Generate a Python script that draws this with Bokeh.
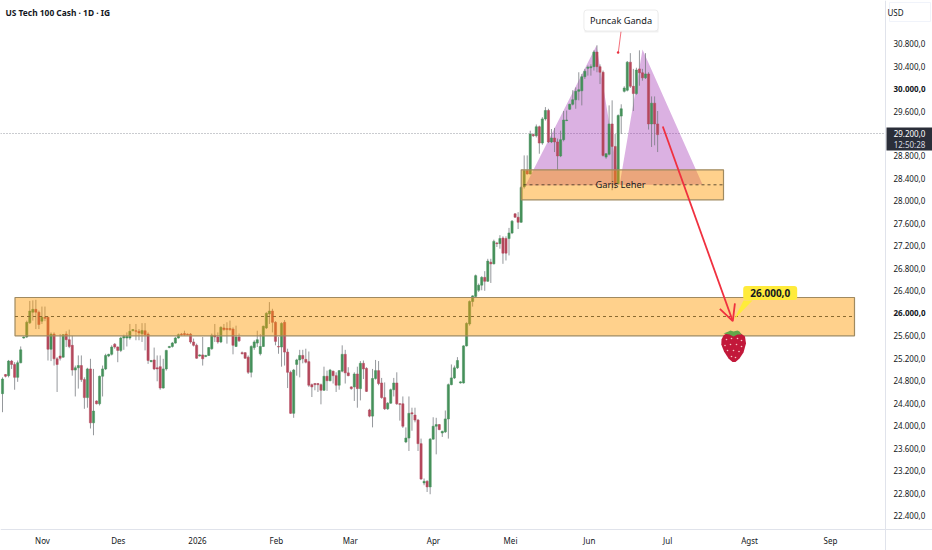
from bokeh.plotting import figure
from bokeh.models import Label, Range1d, FixedTicker, Arrow, OpenHead, LinearAxis
from bokeh.embed import file_html
from bokeh.resources import INLINE

opens = [24570,24910,24890,25150,25090,24860,25120,25560,25580,25830,
26020,26070,26020,25860,25930,25930,25360,25630,25190,25240,
25220,25630,25530,25430,24990,25030,25070,24820,24500,25010,
24050,24440,24390,24880,25010,25240,25270,25450,25400,25340,
25560,25560,25560,25690,25690,25680,25635,25690,25630,25140,
25170,25030,25050,24670,25010,25390,25410,25470,25560,25630,
25640,25630,25630,25490,25430,25240,25260,25230,25250,25370,
25610,25580,25490,25740,25730,25730,25720,25410,25580,25300,
25300,25220,24950,25390,25470,25280,25410,25740,25990,26040,
25840,25410,25400,25840,25310,24950,24220,25090,25170,25250,
25180,25140,24730,24750,24750,24730,24630,24880,24800,24970,
24890,24720,24970,25270,24940,24690,24690,24920,24660,25110,
25020,24280,24170,24840,24980,24760,24500,24300,24400,24640,
24760,24390,24390,23710,23780,24230,24190,24100,23680,22980,
23010,22910,23760,23990,24020,23870,23890,24120,24730,24850,
25030,24760,24760,25420,25810,26210,26300,26410,26500,26640,
26570,26910,26880,27250,27240,27340,27330,27330,27430,27770,
27710,27620,28250,28540,28480,29180,29160,29320,29030,29460,
29610,29050,29120,29050,28800,29090,29430,29630,29720,29800,
29950,29960,30210,30360,30370,30390,30650,30390,30290,28780,
28830,29370,28970,28310,29510,29950,29970,30470,30040,29910,
30350,30280,30190,30260,29370,29740,29370]
highs = [24860,24920,25170,25170,25130,25160,25410,25590,25870,26220,
26230,26240,26050,26120,26120,25940,25660,25660,25220,25630,
25630,25680,25710,25600,25070,25250,25250,24860,25030,25190,
25010,24450,24890,25070,25280,25280,25430,25470,25410,25580,
25620,25660,25810,25720,25810,25720,25825,25825,25660,25170,
25390,25250,25250,25190,25350,25420,25490,25580,25640,25650,
25690,25640,25650,25550,25460,25270,25580,25260,25400,25640,
25810,25660,25770,25810,25840,25870,25750,25780,25640,25320,
25310,25250,25430,25520,25690,25630,25780,26020,26200,26080,
25860,25580,25840,25880,25370,24980,25010,25190,25350,25350,
25370,25320,24750,24760,24760,24750,25050,24980,25010,24980,
24950,24990,25430,25350,25040,24700,24950,25050,25150,25160,
25040,24300,25010,25170,25150,24850,24770,24420,24660,24850,
24950,24400,24520,23970,24520,24320,24320,24120,23770,23060,
23030,23780,24150,24140,24030,23910,24270,24750,25090,25070,
25220,24790,25430,25840,26230,26320,26690,26530,26660,26750,
26970,26970,27310,27270,27390,27370,27370,27520,27660,27780,
27800,28260,28810,28810,29250,29200,29360,29340,29490,29670,
29640,29280,29300,29110,29250,29600,29610,29730,29970,30020,
30290,30260,30350,30410,30430,30680,30770,30430,30320,28850,
29700,29790,29190,29540,29720,30040,30490,30630,30350,30370,
30680,30350,30630,30290,29860,29860,29600]
lows = [24240,24860,24860,25010,24640,24780,25110,25550,25560,25810,
25870,25720,25720,25810,25860,25160,25150,25070,24600,25160,
25210,25400,25380,24890,24520,24660,24780,24300,24320,23950,
23830,24380,24360,24520,24990,25220,25250,25370,25130,25310,
25350,25410,25530,25680,25520,25520,25490,25340,25100,25130,
24990,24790,24640,24660,24980,25380,25390,25460,25550,25600,
25600,25610,25460,25410,25190,25230,25070,25220,25240,25350,
25490,25460,25470,25690,25460,25690,25270,25400,25490,25270,
25190,24920,24860,25350,25400,25250,25400,25720,25810,25660,
25430,25280,25050,25070,24670,24210,24140,24890,24860,25110,
25110,24690,24510,24630,24600,24380,24620,24620,24790,24750,
24600,24640,24950,24750,24880,24640,24440,24320,24450,24830,
24600,24150,23970,24820,24720,24480,24280,24280,24390,24520,
24370,24090,23960,23690,23550,23910,24060,23550,23040,22940,
22820,22780,23750,23490,23920,23800,23870,23770,24720,24830,
25010,24750,24750,25410,25780,26120,26290,26380,26410,26400,
26560,26540,26870,27180,27150,26880,26940,27030,27410,27700,
27500,27610,28220,28470,28470,29140,29130,28840,29000,29430,
29030,29030,28870,28550,28780,29060,29420,29620,29700,29640,
29790,29700,30170,30230,30230,30320,30290,30080,28790,28750,
28810,28190,28220,28290,29190,29930,29950,30010,29600,29890,
30050,30140,30170,29270,28960,28990,28870]
closes = [24830,24880,25150,25090,24860,25120,25350,25580,25840,26040,
26070,26020,25800,25930,25910,25360,25630,25190,25090,25200,
25620,25530,25410,24990,25030,25070,24820,24500,25010,24050,
24260,24390,24880,25010,25250,25270,25400,25400,25340,25560,
25590,25590,25680,25710,25680,25650,25695,25620,25160,25160,
25010,25010,24670,25010,25340,25410,25470,25560,25620,25620,
25620,25620,25490,25430,25200,25260,25190,25250,25390,25610,
25580,25490,25750,25710,25710,25710,25430,25580,25510,25280,
25200,24950,25410,25490,25530,25410,25770,26000,26040,25840,
25500,25400,25820,25310,24950,24220,24990,25170,25250,25190,
25130,24720,24690,24730,24730,24630,24880,24800,24990,24890,
24720,24980,25270,24940,24890,24660,24920,24660,25110,25010,
24610,24170,24840,24980,24750,24500,24300,24400,24640,24760,
24390,24380,23990,23780,24220,24210,24100,23680,23050,23010,
22910,23760,23990,24020,23930,23900,24120,24730,24850,25030,
25160,24780,25420,25820,26210,26310,26670,26500,26640,26570,
26930,26880,27280,27240,27330,27070,27070,27430,27640,27710,
27620,28240,28540,28480,29190,29160,29320,29030,29460,29610,
29050,29120,29050,28800,29090,29440,29440,29720,29800,29950,
29980,30210,30310,30380,30390,30650,30390,30290,28810,28840,
29370,28970,28310,29520,29640,30010,30470,30040,29910,30330,
30280,30190,30260,29370,29740,29370,29180]

price_ticks = [30800,30400,30000,29600,29200,28800,28400,28000,27600,27200,26800,
               26400,26000,25600,25200,24800,24400,24000,23600,23200,22800,22400]
bold_prices = [30000, 26000]
month_ticks = [13.2,38.2,64.3,90.3,114.7,142.1,167.5,193.5,219.3,246.3,273.0]
month_labels = ["Nov","Des","2026","Feb","Mar","Apr","Mei","Jun","Jul","Agst","Sep"]

FONT = "Noto Sans"
INK = "#131722"
GREEN, RED, WICK = "#45905a", "#b4485c", "#74777d"

# helpers for annotation placement, page pixels to chart coordinates
BAR_PX, BAR0, PX_PRICE, Y_REF, P_REF = 3.033, 2.0, 17.797, 133.0, 29200.0
def X(px): return (px - BAR0) / BAR_PX
def Y(py): return P_REF - (py - Y_REF) * PX_PRICE
def fmt(v): return f"{v:,.1f}".replace(",", "#").replace(".", ",").replace("#", ".")

p = figure(width=932, height=550, output_backend="svg", toolbar_location=None,
           x_range=Range1d(X(0), X(932)), y_range=Range1d(Y(550), Y(0)),
           x_axis_type=None, y_axis_type=None, min_border=0, outline_line_color=None,
           background_fill_color="white", border_fill_color="white")
p.margin = (0, 0, 0, 0)
p.xgrid.visible = False
p.ygrid.visible = False

xax = LinearAxis(ticker=FixedTicker(ticks=month_ticks), fixed_location=Y(529))
xax.major_label_overrides = {t: l for t, l in zip(month_ticks, month_labels)}
yax = LinearAxis(ticker=FixedTicker(ticks=price_ticks), fixed_location=X(885))
yax.major_label_overrides = {t: ("" if t in bold_prices + [29200] else fmt(t)) for t in price_ticks}
for a in (xax, yax):
    a.axis_line_color = "#e0e3eb"
    a.major_tick_line_color = None
    a.minor_tick_line_color = None
    a.major_tick_out = 0
    a.major_tick_in = 0
    a.major_label_text_font = FONT
    a.major_label_text_font_size = "8px"
    a.major_label_text_color = INK
xax.major_label_standoff = 5
yax.major_label_standoff = 8
p.add_layout(xax, "below")
p.add_layout(yax, "right")

# current price line
p.line([X(0), X(885)], [29200, 29200], line_color="#9598a1", line_width=1, line_dash="1 2")

# double-top pattern under the candles
p.patch([X(525), X(596), X(619), X(642), X(702)],
        [Y(185), Y(45), Y(185), Y(49), Y(184)],
        fill_color="#9c27b0", fill_alpha=0.36, line_color=None)

# candles
idx = list(range(len(opens)))
assert len(opens) == len(highs) == len(lows) == len(closes)
colors = [GREEN if c >= o else RED for o, c in zip(opens, closes)]
p.segment(idx, highs, idx, lows, line_color=WICK, line_width=0.9, line_alpha=0.85)
p.vbar(idx, 0.72, [min(o, c) for o, c in zip(opens, closes)], [max(o, c) for o, c in zip(opens, closes)],
       fill_color=colors, line_color=colors, line_width=0.5)

# zones over the candles
ZONE, ZLINE = "#ff9800", "#a08a60"
def zone(x0, x1, ty, by):
    p.quad(left=[X(x0)], right=[X(x1)], top=[Y(ty)], bottom=[Y(by)], fill_color=ZONE,
           fill_alpha=0.45, line_color=ZLINE, line_width=1.2)
zone(14.5, 854, 297, 335.3)
zone(520.7, 723, 169.3, 199.3)
p.line([X(14.5), X(854)], [Y(316), Y(316)], line_color="#8a6a30", line_width=1, line_dash="3 3")
p.line([X(523), X(596)], [Y(184.3), Y(184.3)], line_color="#3a3020", line_width=0.8, line_dash="3 3")
p.line([X(653), X(723)], [Y(184.3), Y(184.3)], line_color="#3a3020", line_width=0.8, line_dash="3 3")

# arrow
p.add_layout(Arrow(end=OpenHead(size=16, line_color="#f0303f", line_width=1.8),
                   x_start=X(662.3), y_start=Y(126), x_end=X(732.3), y_end=Y(320.7),
                   line_color="#f0303f", line_width=1.8))

# yellow tag tail
p.patch([X(743), X(752), X(733.5)], [Y(300), Y(300), Y(319)], fill_color="#ffeb3b", line_color=None)

def label(px, py, text, size="8px", bold=False, color=INK, align="center", **kw):
    l = Label(x=X(px), y=Y(py), text=text, text_font=FONT, text_font_size=size,
              text_font_style="bold" if bold else "normal", text_color=color,
              text_align=align, text_baseline="middle", **kw)
    p.add_layout(l)
    return l

label(620, 184, "Garis Leher", size="9.3px")
label(769.7, 292.5, "26.000,0", size="10px", bold=True, background_fill_color="#ffeb3b",
      padding=(7, 7, 3, 3), border_radius=3)

# callout
p.line([X(620.5), X(617.8)], [Y(31), Y(52)], line_color="#f4707c", line_width=1)
p.scatter([X(617.6)], [Y(52)], size=2.5, fill_color="#e8303f", line_color=None)
p.quad(left=[X(584)], right=[X(658)], top=[Y(13)], bottom=[Y(32)], fill_color="#000000", fill_alpha=0.06, line_color=None)
label(620.5, 20, "Puncak Ganda", size="9.2px", background_fill_color="white",
      border_line_color="#ececec", padding=(6, 6, 4, 4), border_radius=3)

# strawberry
sx = [723, 727, 733, 739, 744.5, 745.5, 743, 739, 735, 732, 728, 723.5, 720.8, 721]
sy = [335, 332, 331.5, 332, 336, 343, 352, 358, 361.5, 361.5, 358, 351, 344, 339]
p.patch([X(v) for v in sx], [Y(v) for v in sy], fill_color="#c2183a", line_color=None)
p.patch([X(v) for v in [723, 728, 730, 733, 737, 739, 741, 737, 733, 729]],
        [Y(v) for v in [333, 331, 330, 331, 330, 331, 334, 334, 336, 334]],
        fill_color="#62a84a", line_color=None)
seedx = [726, 731, 737, 741, 724.5, 730, 736, 741, 727, 733, 738.5, 731, 735]
seedy = [339, 338, 338, 340, 345, 344, 344, 346, 350, 350, 351, 356, 357]
p.scatter([X(v) for v in seedx], [Y(v) for v in seedy], size=1.6, fill_color="#f6c6c6", line_color=None)

# title and right-hand labels
label(5, 11.5, "US Tech 100 Cash · 1D · IG", size="8.4px", bold=True, align="left")
p.quad(left=[X(889)], right=[X(930)], top=[Y(2)], bottom=[Y(21)], fill_color="white", line_color="#f0f3fa")
label(895, 12, "USD")
for v in bold_prices:
    label(893, (Y_REF + (P_REF - v) / PX_PRICE), fmt(v), bold=True, align="left")
p.quad(left=[X(886)], right=[X(932)], top=[Y(127)], bottom=[Y(150)], fill_color="#2a2e39", line_color=None)
label(909, 133, fmt(29200), color="white")
label(909, 144, "12:50:28", color="#d8dae0")

open("out.html", "w").write(file_html(p, INLINE))
